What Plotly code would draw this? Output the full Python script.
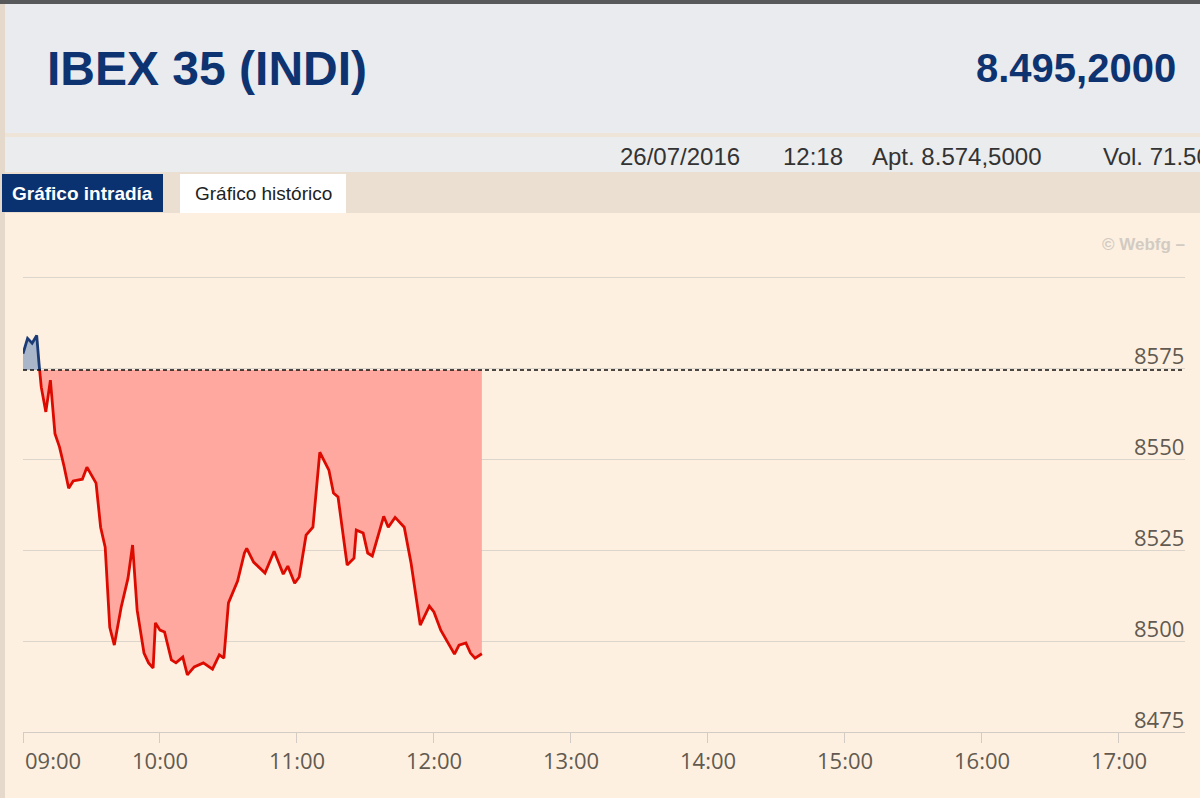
import pandas as pd
import plotly.graph_objects as go

W, H = 1200, 798

# ---------------- data ----------------
DAY = "2016-07-26"
times = ["09:00", "09:02", "09:04", "09:06", "09:07", "09:08", "09:10", "09:12", "09:14", "09:16",
         "09:18", "09:20", "09:22", "09:26", "09:28", "09:32", "09:34", "09:36", "09:38", "09:40",
         "09:43", "09:46", "09:48", "09:50", "09:53", "09:55", "09:57", "09:58", "10:00", "10:02",
         "10:05", "10:07", "10:10", "10:12", "10:15", "10:19", "10:23", "10:26", "10:28", "10:30",
         "10:34", "10:37", "10:38", "10:41", "10:46", "10:50", "10:54", "10:56", "10:59", "11:01",
         "11:04", "11:07", "11:10", "11:14", "11:16", "11:18", "11:22", "11:25", "11:26", "11:29",
         "11:31", "11:33", "11:38", "11:40", "11:43", "11:47", "11:50", "11:54", "11:58", "12:00",
         "12:03", "12:06", "12:09", "12:11", "12:14", "12:16", "12:18", "12:21"]
values = [8579.0, 8583.2, 8581.9, 8584.0, 8576.4, 8569.8, 8563.0, 8571.7, 8557.0, 8553.3,
          8548.0, 8542.0, 8544.0, 8544.5, 8547.8, 8543.4, 8531.3, 8525.8, 8503.8, 8498.9,
          8509.3, 8517.3, 8526.4, 8508.5, 8496.7, 8494.0, 8492.6, 8505.0, 8503.0, 8502.5,
          8494.8, 8494.0, 8495.6, 8490.7, 8492.9, 8494.0, 8492.3, 8496.2, 8495.3, 8510.5,
          8516.5, 8524.2, 8525.5, 8521.7, 8518.7, 8524.7, 8518.4, 8520.6, 8515.9, 8517.6,
          8529.1, 8531.3, 8551.9, 8547.0, 8540.7, 8539.6, 8520.9, 8522.8, 8530.5, 8529.7,
          8524.2, 8523.4, 8534.3, 8531.3, 8534.0, 8531.3, 8521.4, 8504.4, 8509.6, 8508.0,
          8503.0, 8499.5, 8496.4, 8498.9, 8499.5, 8496.7, 8495.3, 8496.5]
opening = 8574.5

y_grid = [8475, 8500, 8525, 8550, 8575, 8600]
y_labels = ["8475", "8500", "8525", "8550", "8575"]
x_ticks = ["09:00", "10:00", "11:00", "12:00", "13:00", "14:00", "15:00", "16:00", "17:00"]
x_range = ["09:00", "17:29"]
y_range = [8475, 8613]

title_text = "IBEX 35 (INDI)"
last_text = "8.495,2000"
date_text = "26/07/2016"
time_text = "12:18"
open_text = "Apt. 8.574,5000"
vol_text = "Vol. 71.500.000"
tab1_text = "Gráfico intradía"
tab2_text = "Gráfico histórico"
credit_text = "© Webfg –"

# ---------------- helpers ----------------
def px(x):
    return x / W

def py(y):
    return 1 - y / H

def ts(s):
    return pd.Timestamp(f"{DAY} {s}")

t = [ts(s) for s in times]
xs, ys = [], []
for i, v in enumerate(values):
    if i > 0:
        v0 = values[i - 1]
        if (v0 - opening) * (v - opening) < 0:
            f = (opening - v0) / (v - v0)
            xs.append(t[i - 1] + (t[i] - t[i - 1]) * f)
            ys.append(opening)
    xs.append(t[i])
    ys.append(v)

low = [min(v, opening) for v in ys]
high = [max(v, opening) for v in ys]
above = [v if v >= opening else None for v in ys]
below = [v if v <= opening else None for v in ys]
base = [opening] * len(xs)

RED_FILL = "#FEA89F"
RED_LINE = "#DD0A00"
BLUE_FILL = "#A9B6C9"
BLUE_LINE = "#1B3B76"

fig = go.Figure()
fig.add_trace(go.Scatter(x=xs, y=base, mode="lines", line=dict(width=0), hoverinfo="skip", showlegend=False))
fig.add_trace(go.Scatter(x=xs, y=low, mode="lines", line=dict(width=0), fill="tonexty",
                         fillcolor=RED_FILL, hoverinfo="skip", showlegend=False))
fig.add_trace(go.Scatter(x=xs, y=base, mode="lines", line=dict(width=0), hoverinfo="skip", showlegend=False))
fig.add_trace(go.Scatter(x=xs, y=high, mode="lines", line=dict(width=0), fill="tonexty",
                         fillcolor=BLUE_FILL, hoverinfo="skip", showlegend=False))
fig.add_trace(go.Scatter(x=xs, y=below, mode="lines", line=dict(color=RED_LINE, width=2.8),
                         connectgaps=False, showlegend=False))
fig.add_trace(go.Scatter(x=xs, y=above, mode="lines", line=dict(color=BLUE_LINE, width=2.8),
                         connectgaps=False, showlegend=False))

shapes = []
def rect(x0, y0, x1, y1, color):
    shapes.append(dict(type="rect", xref="paper", yref="paper", x0=px(x0), x1=px(x1),
                       y0=py(y1), y1=py(y0), fillcolor=color, line=dict(width=0), layer="below"))

rect(0, 0, W, 4, "#58595B")
rect(0, 4, W, 133, "#E9EBEE")
rect(0, 133, W, 137, "#EEE4D7")
rect(0, 137, W, 172, "#EBECEE")
rect(0, 172, W, 213, "#EBDFD1")
rect(0, 4, 5, H, "#E4D9CA")
rect(2, 174, 163, 212, "#0B3270")
rect(180, 174, 346, 213, "#FFFFFF")

# dashed opening line
shapes.append(dict(type="line", xref="paper", yref="y", x0=px(23), x1=px(1184),
                   y0=opening, y1=opening, line=dict(color="#111111", width=1.5, dash="4px,3px"),
                   layer="above"))

HEAD = "Liberation Sans, Arial, sans-serif"
TICK_FONT = dict(family="Open Sans, DejaVu Sans, sans-serif", size=22, color="#625A50")

ann = []
ann.append(dict(text=f"<b>{title_text}</b>", x=px(45), y=py(68), xref="paper", yref="paper",
                xanchor="left", yanchor="middle", showarrow=False,
                font=dict(family=HEAD, size=48, color="#0E3371")))
ann.append(dict(text=f"<b>{last_text}</b>", x=px(1178), y=py(68), xref="paper", yref="paper",
                xanchor="right", yanchor="middle", showarrow=False,
                font=dict(family=HEAD, size=40, color="#0E3371")))
for txt, xl in [(date_text, 618), (time_text, 781), (open_text, 870), (vol_text, 1101)]:
    ann.append(dict(text=txt, x=px(xl), y=py(156), xref="paper", yref="paper",
                    xanchor="left", yanchor="middle", showarrow=False,
                    font=dict(family=HEAD, size=24, color="#333333")))
ann.append(dict(text=f"<b>{tab1_text}</b>", x=px(82.5), y=py(194), xref="paper", yref="paper",
                xanchor="center", yanchor="middle", showarrow=False,
                font=dict(family=HEAD, size=19, color="#FFFFFF")))
ann.append(dict(text=tab2_text, x=px(263), y=py(194), xref="paper", yref="paper",
                xanchor="center", yanchor="middle", showarrow=False,
                font=dict(family=HEAD, size=19, color="#222222")))
ann.append(dict(text=f"<b>{credit_text}</b>", x=px(1187), y=py(244), xref="paper", yref="paper",
                xanchor="right", yanchor="middle", showarrow=False,
                font=dict(family=HEAD, size=17, color="#D2CBC2")))

for lab in y_labels:
    ann.append(dict(text=lab, x=px(1186), y=float(lab), xref="paper", yref="y",
                    xanchor="right", yanchor="bottom", showarrow=False, yshift=-4,
                    font=TICK_FONT))
for i, lab in enumerate(x_ticks):
    ann.append(dict(text=lab, x=ts(lab), y=py(760), xref="x", yref="paper",
                    xanchor="left" if i == 0 else "center", yanchor="middle", showarrow=False,
                    font=TICK_FONT))

fig.update_layout(
    width=W, height=H, autosize=False,
    margin=dict(l=0, r=0, t=0, b=0, pad=0),
    paper_bgcolor="#FDF0E1", plot_bgcolor="#FDF0E1",
    shapes=shapes, annotations=ann, showlegend=False,
    xaxis=dict(type="date", range=[ts(x_range[0]), ts(x_range[1])], domain=[px(23), px(1185)],
               showgrid=False, zeroline=False, showline=True, linecolor="#D2CCC4", linewidth=1,
               ticks="outside", ticklen=10, tickcolor="#D2CCC4", tickwidth=1,
               tickvals=[ts(s) for s in x_ticks], showticklabels=False, fixedrange=True),
    yaxis=dict(range=y_range, domain=[py(732), py(230)], showgrid=True, gridcolor="#DCD5CC",
               gridwidth=1, tickvals=y_grid, showticklabels=False, zeroline=False,
               showline=False, fixedrange=True),
)

fig.write_html("out.html", config={"displayModeBar": False},
               post_script="document.body.style.margin='0';document.body.style.overflow='hidden';")
